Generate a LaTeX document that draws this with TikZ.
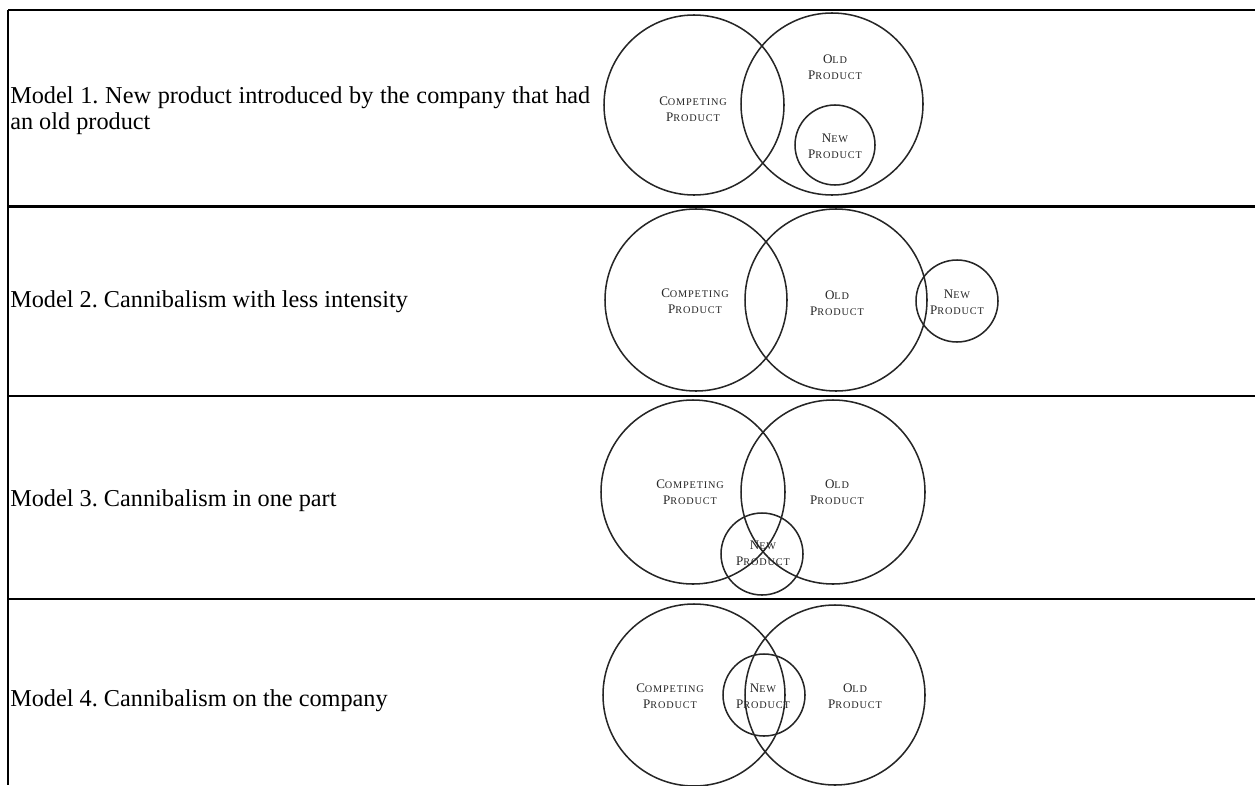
\documentclass[tikz,border=0pt]{standalone}
\usepackage{fontspec}
\setmainfont{Liberation Serif}
\newfontfamily\scfont[LetterSpace=8]{Liberation Serif}
\newcommand\scw[2]{{\fontsize{9.8pt}{14pt}\selectfont #1}{\fontsize{7.7pt}{14pt}\selectfont #2}}
\frenchspacing
\begin{document}
\begin{tikzpicture}[x=0.75pt,y=-0.75pt,
  rule/.style={line width=1.9pt,black},
  circ/.style={circle,draw=black!85,line width=1.15pt,inner sep=0pt,minimum size=#1},
  lab/.style={align=center,inner sep=0pt,font=\scfont,text=black!85},
  mtext/.style={anchor=base west,inner sep=0pt,font=\fontsize{18.2pt}{20pt}\selectfont}]
\useasboundingbox (0,0) rectangle (1255,785);
% table rules
\coordinate (tl) at (8,10);
\coordinate (tr) at (1255,10);
\coordinate (bl) at (8,785);
\coordinate (r1l) at (8,206.5);
\coordinate (r1r) at (1255,206.5);
\coordinate (r2l) at (8,396);
\coordinate (r2r) at (1255,396);
\coordinate (r3l) at (8,599);
\coordinate (r3r) at (1255,599);
\draw[rule] (tl) -- (tr);
\draw[rule] (r1l) -- (r1r);
\draw[rule] (r2l) -- (r2r);
\draw[rule] (r3l) -- (r3r);
\draw[rule] (tl) -- (bl);
% left texts
\node[mtext] (t1) at (10,103) {\vtop{\baselineskip=20pt\hbox to 435pt{Model 1. New product introduced by the company that had}\hbox{an old product}}};
\node[mtext] (t2) at (10,307) {Model 2. Cannibalism with less intensity};
\node[mtext] (t3) at (10,506) {Model 3. Cannibalism in one part};
\node[mtext] (t4) at (10,706) {Model 4. Cannibalism on the company};
% row 1
\node[circ=135pt] (c1) at (694,105) {};
\node[circ=136.5pt] (o1) at (832,104) {};
\node[circ=60pt] (n1) at (835,145) {};
\node[lab] (lc1) at (693,109) {\scw{C}{OMPETING}\\\scw{P}{RODUCT}};
\node[lab] (lo1) at (835,67.5) {\scw{O}{LD}\\\scw{P}{RODUCT}};
\node[lab] (ln1) at (835,146) {\scw{N}{EW}\\\scw{P}{RODUCT}};
% row 2
\node[circ=136.5pt] (c2) at (696,300) {};
\node[circ=136.5pt] (o2) at (836,300) {};
\node[circ=61.5pt] (n2) at (957,301) {};
\node[lab] (lc2) at (695,301) {\scw{C}{OMPETING}\\\scw{P}{RODUCT}};
\node[lab] (lo2) at (837,303.5) {\scw{O}{LD}\\\scw{P}{RODUCT}};
\node[lab] (ln2) at (957,302) {\scw{N}{EW}\\\scw{P}{RODUCT}};
% row 3
\node[circ=138pt] (c3) at (693,492) {};
\node[circ=138pt] (o3) at (833,492) {};
\node[circ=61.5pt] (n3) at (762,554) {};
\node[lab] (lc3) at (690,492.5) {\scw{C}{OMPETING}\\\scw{P}{RODUCT}};
\node[lab] (lo3) at (837,492.5) {\scw{O}{LD}\\\scw{P}{RODUCT}};
\node[lab] (ln3) at (763,553) {\scw{N}{EW}\\\scw{P}{RODUCT}};
% row 4
\node[circ=136.5pt] (c4) at (694,695) {};
\node[circ=135pt] (o4) at (835,695) {};
\node[circ=61.5pt] (n4) at (764,695) {};
\node[lab] (lc4) at (670,696) {\scw{C}{OMPETING}\\\scw{P}{RODUCT}};
\node[lab] (ln4) at (763,696) {\scw{N}{EW}\\\scw{P}{RODUCT}};
\node[lab] (lo4) at (855,696) {\scw{O}{LD}\\\scw{P}{RODUCT}};
\end{tikzpicture}
\end{document}
